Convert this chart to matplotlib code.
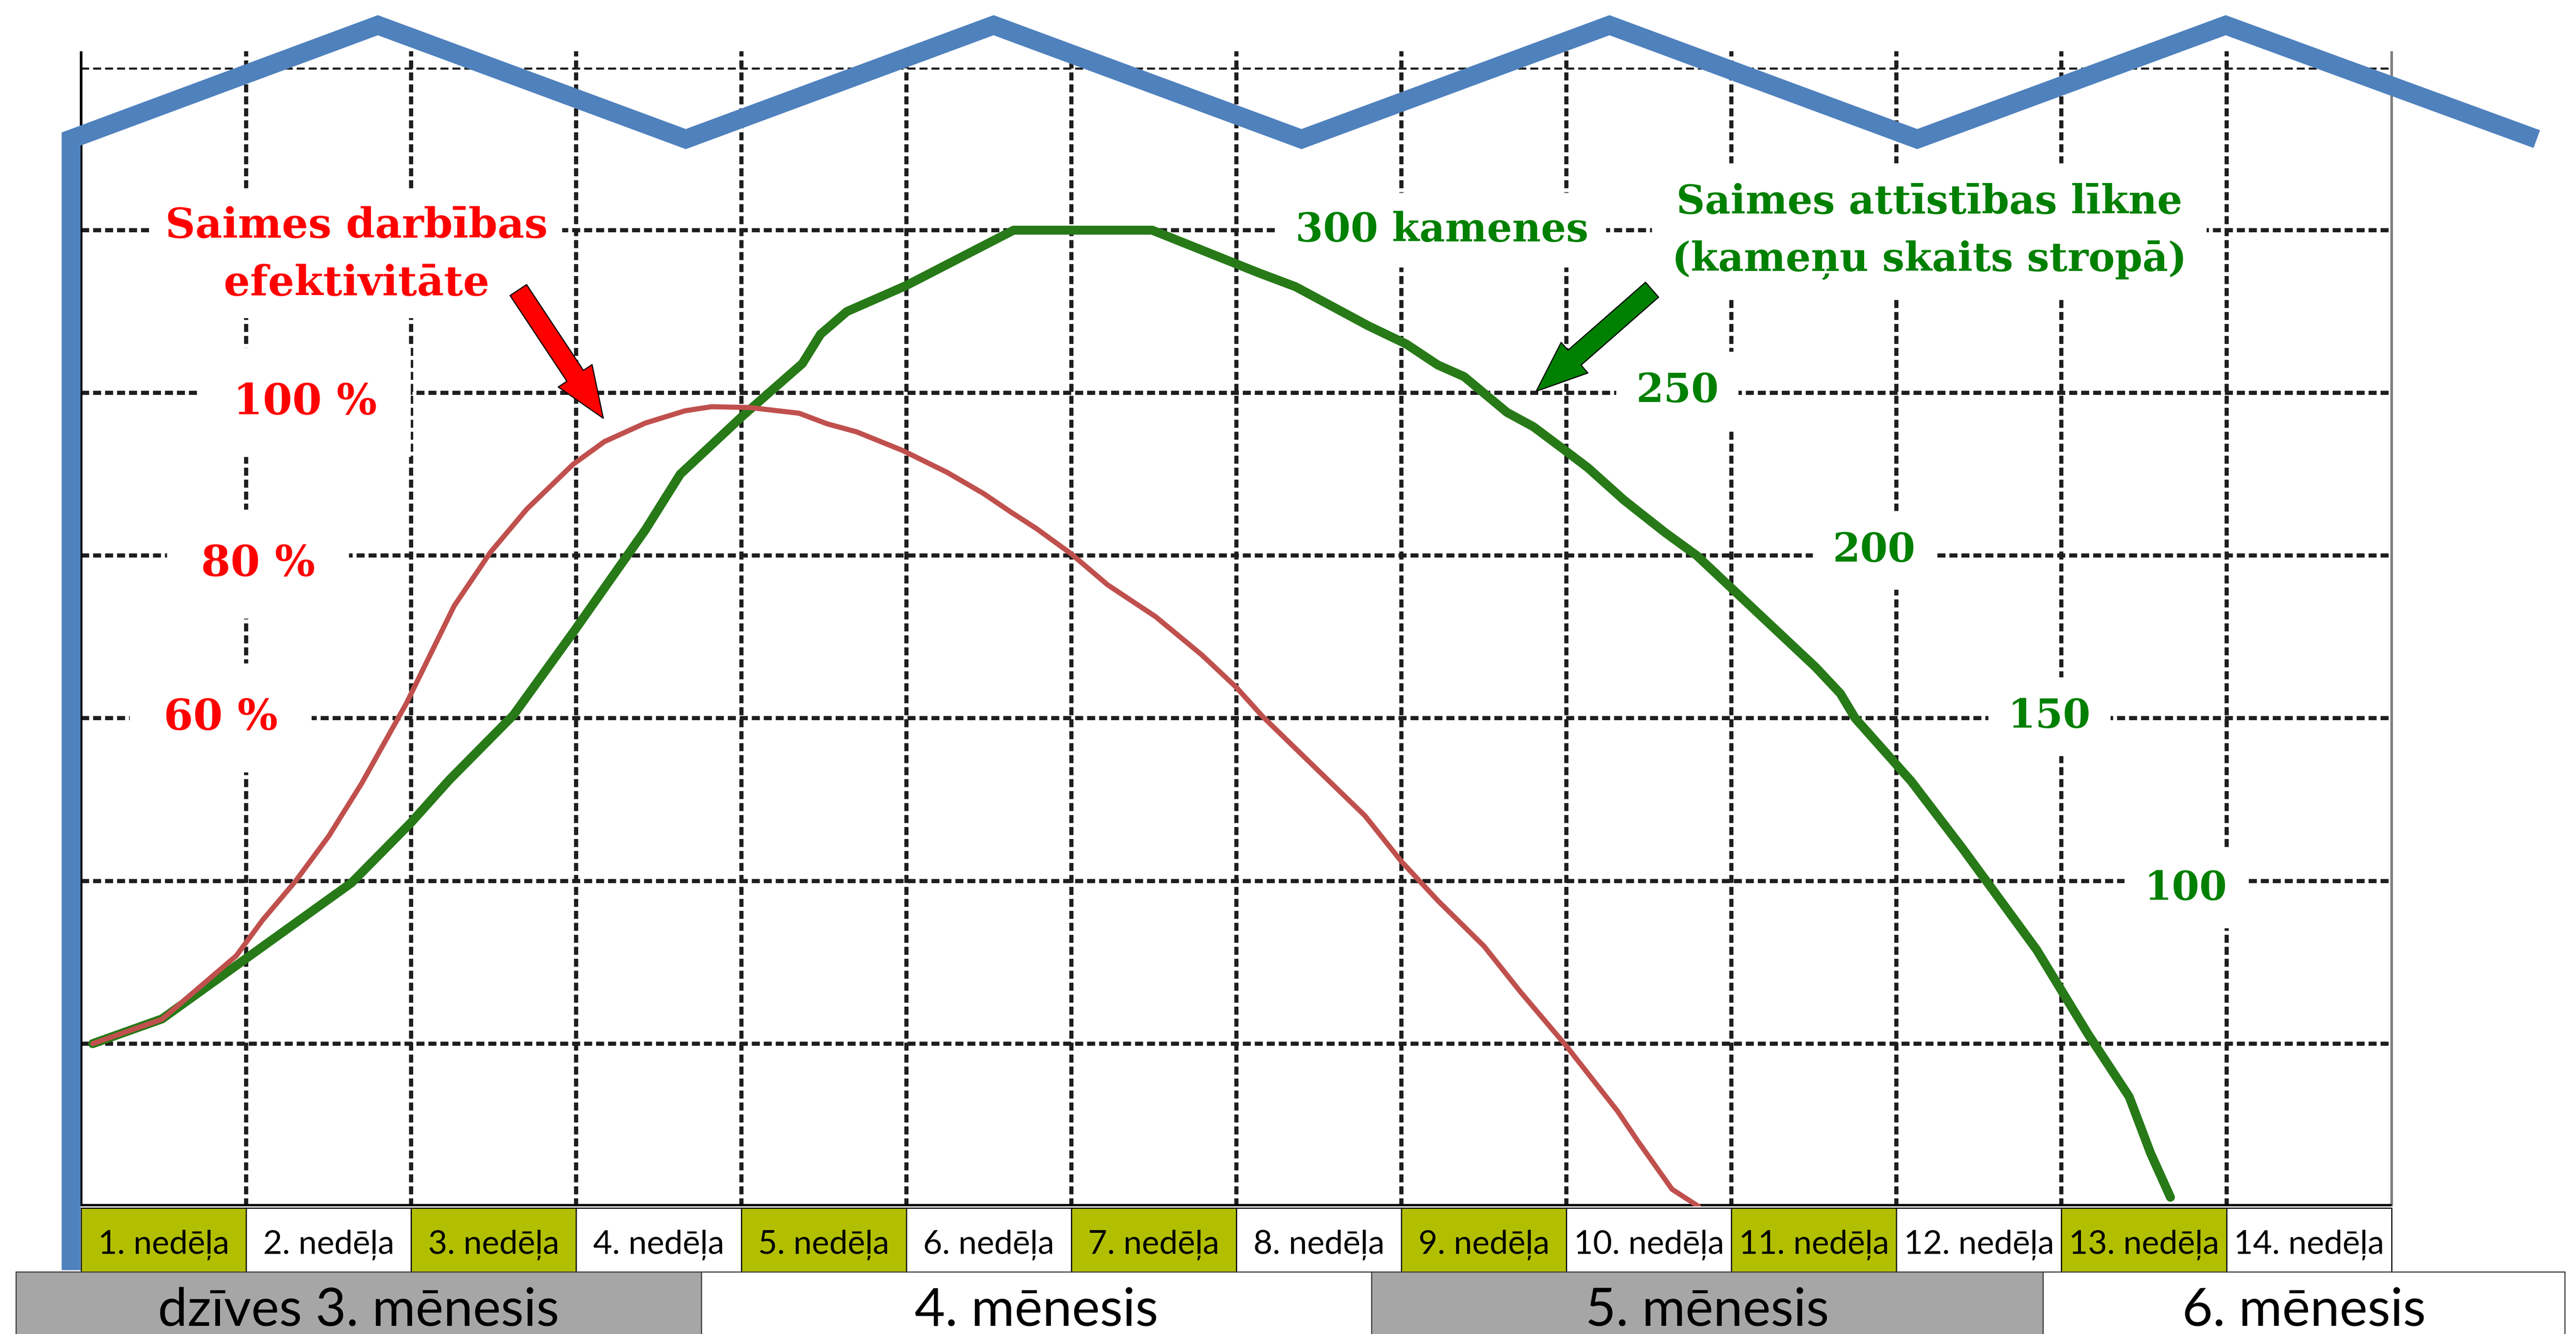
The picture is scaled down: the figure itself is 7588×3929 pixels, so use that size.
import matplotlib.pyplot as plt
import matplotlib.transforms as mtransforms
from matplotlib.patches import Rectangle, FancyArrowPatch

plt.rcParams["lines.scale_dashes"] = False
plt.rcParams["font.family"] = ["Lato", "DejaVu Sans"]

# === Data ===
week_labels = [f"{i}. nedēļa" for i in range(1, 15)]
month_labels = ["dzīves 3. mēnesis", "4. mēnesis", "5. mēnesis", "6. mēnesis"]

# colony development curve (number of bumblebees in the nest)
colony_weeks = [0.07, 0.49, 0.94, 1.64, 2.0, 2.23, 2.62, 2.99, 3.42, 3.63, 4.01,
                4.37, 4.48, 4.64, 5.0, 5.65, 6.49, 7.13, 7.36, 7.8, 8.03, 8.22,
                8.38, 8.64, 8.8, 9.0, 9.13, 9.35, 9.6, 9.79, 10.51, 10.66, 10.75,
                11.09, 11.4, 11.85, 12.16, 12.41, 12.54, 12.66]
colony_bees = [50, 57.6, 74, 99.5, 118, 131, 151, 177, 208, 225, 243,
               259, 268, 275, 283, 300, 300, 287, 282.6, 270.6, 265, 258.6,
               255, 244, 239.6, 232, 227, 217, 207, 200, 165.7, 157.6, 150,
               130.6, 110, 78.8, 53, 33.7, 16.3, 2.8]

# colony efficiency curve (%)
efficiency_weeks = [0.07, 0.49, 0.94, 1.10, 1.30, 1.50, 1.70, 1.97, 2.26, 2.48,
                    2.70, 2.98, 3.17, 3.42, 3.66, 3.82, 4.05, 4.35, 4.52, 4.70,
                    4.98, 5.25, 5.47, 5.63, 5.79, 6.0, 6.22, 6.51, 6.79, 7.0,
                    7.16, 7.5, 7.78, 8.0, 8.22, 8.5, 8.72, 9.0, 9.31, 9.43,
                    9.64, 9.80]
efficiency_pct = [20, 23, 30.8, 35.2, 40, 45.5, 52, 61.8, 73.8, 80.4,
                  85.7, 91.2, 94.0, 96.3, 97.8, 98.3, 98.2, 97.5, 96.2, 95.2,
                  92.9, 90.2, 87.6, 85.4, 83.3, 80.2, 76.4, 72.5, 67.8, 63.8,
                  60.2, 53.5, 48, 42.4, 37.6, 32, 26.4, 19.7, 11.7, 8.1,
                  2.1, 0]

bee_labels = ["100", "150", "200", "250"]
pct_labels = ["60 %", "80 %", "100 %"]

# === Styling / layout ===
RED_TXT = "#FF0000"
GREEN_TXT = "#008000"
RED_LINE = "#C0504D"
GREEN_LINE = "#277A17"
ROOF = "#4F81BD"
OLIVE = "#B2BF00"
GRAY = "#A6A6A6"
GRID = "#1E1E1E"
dash = (0, (8.5, 4.2))
serif = dict(family="DejaVu Serif", weight="bold")

fig = plt.figure(figsize=(37.94, 19.645), dpi=200)
ax = fig.add_axes([0.0315, 0.0957, 0.8969, 0.8537])
ax.set_xlim(0, 14)
ax.set_ylim(0, 350)
ax.set_xticks([])
ax.set_yticks([])
for s in ax.spines.values():
    s.set_visible(False)

# grid (dashed, sticking out a little above the top)
ax.vlines(range(1, 14), 0, 355, colors=GRID, lw=4.4, linestyles=[dash], clip_on=False, zorder=1)
ax.hlines(range(50, 351, 50), 0, 14, colors=GRID, lw=4.4, linestyles=[dash], zorder=1)
ax.vlines(0, 0, 355, colors="black", lw=2.8, clip_on=False, zorder=2)
ax.vlines(14, 0, 355, colors="#808080", lw=2.8, clip_on=False, zorder=2)
ax.hlines(0, 0, 14, colors="black", lw=5, zorder=2)

# === Curves ===
ax.plot(colony_weeks, colony_bees, color=GREEN_LINE, lw=9.5, solid_capstyle="round",
        solid_joinstyle="round", zorder=4)

ax2 = ax.twinx()
ax2.set_ylim(0, 140)
ax2.set_yticks([])
for s in ax2.spines.values():
    s.set_visible(False)
ax2.plot(efficiency_weeks, efficiency_pct, color=RED_LINE, lw=5.4, solid_capstyle="round",
         solid_joinstyle="round", zorder=4)

# === Week and month strips under the chart ===
trans = mtransforms.blended_transform_factory(ax.transData, ax.transAxes)
for i, lab in enumerate(week_labels):
    fc = OLIVE if i % 2 == 0 else "white"
    ax.add_patch(Rectangle((i, -0.059), 1, 0.0576, transform=trans, fc=fc, ec="black",
                           lw=1.2, clip_on=False, zorder=3))
    ax.text(i + 0.5, -0.0417, lab, transform=trans, ha="center", va="baseline",
            fontsize=35, color="black", clip_on=False, zorder=4)

month_edges = [-0.396, 3.758, 7.818, 11.888, 15.05]
for j, lab in enumerate(month_labels):
    fc = GRAY if j % 2 == 0 else "white"
    x0, x1 = month_edges[j], month_edges[j + 1]
    ax.add_patch(Rectangle((x0, -0.13), x1 - x0, 0.0724, transform=trans, fc=fc, ec="#404040",
                           lw=1.2, clip_on=False, zorder=3))
    ax.text((x0 + x1) / 2, -0.105, lab, transform=trans, ha="center", va="baseline",
            fontsize=56, color="black", clip_on=False, zorder=4)

# === House outline (wall + roof) ===
roof_x = [-0.061, -0.061, 1.798, 3.664, 5.529, 7.395, 9.261, 11.126, 12.995, 14.88]
roof_y = [-19.6, 328, 363, 328, 363, 328, 363, 328, 363, 328]
ax.plot(roof_x, roof_y, color=ROOF, lw=20, solid_joinstyle="miter", solid_capstyle="butt",
        clip_on=False, zorder=8)

# === Annotations ===
wbox = dict(boxstyle="square,pad=0.35", fc="white", ec="none")
ax.text(1.669, 297.7, "Saimes darbības", ha="center", va="baseline", fontsize=44,
        color=RED_TXT, bbox=wbox, zorder=3, **serif)
ax.text(1.669, 280.0, "efektivitāte", ha="center", va="baseline", fontsize=44,
        color=RED_TXT, bbox=wbox, zorder=3, **serif)

pct_pos = [(0.846, 146.5), (1.072, 193.8), (1.356, 243.4)]
for (x, y), lab in zip(pct_pos, pct_labels):
    ax.text(x, y, lab, ha="center", va="baseline", fontsize=45, color=RED_TXT,
            bbox=dict(boxstyle="square,pad=0.8", fc="white", ec="none"), zorder=3, **serif)

bee_pos = [(12.753, 94.2), (11.927, 147.1), (10.863, 198.2), (9.673, 247.2)]
for (x, y), lab in zip(bee_pos, bee_labels):
    ax.text(x, y, lab, ha="center", va="baseline", fontsize=42, color=GREEN_TXT,
            bbox=dict(boxstyle="square,pad=0.5", fc="white", ec="none"), zorder=3, **serif)

ax.text(8.245, 296.6, "300 kamenes", ha="center", va="baseline", fontsize=42,
        color=GREEN_TXT, bbox=dict(boxstyle="square,pad=0.45", fc="white", ec="none"),
        zorder=3, **serif)
ax.text(11.199, 305.1, "Saimes attīstības līkne", ha="center", va="baseline", fontsize=42,
        color=GREEN_TXT, bbox=dict(boxstyle="square,pad=0.5", fc="white", ec="none"),
        zorder=3, **serif)
ax.text(11.199, 287.5, "(kameņu skaits stropā)", ha="center", va="baseline", fontsize=42,
        color=GREEN_TXT, bbox=dict(boxstyle="square,pad=0.5", fc="white", ec="none"),
        zorder=3, **serif)

arrow_style = "simple,head_length=5.4,head_width=4.3,tail_width=2.1"
ax.add_patch(FancyArrowPatch((2.649, 281.6), (3.164, 242.2), arrowstyle=arrow_style,
                             mutation_scale=10, fc="#FF0000", ec="black", lw=1.2,
                             shrinkA=0, shrinkB=0, zorder=6))
ax.add_patch(FancyArrowPatch((9.519, 281.7), (8.817, 250.5), arrowstyle=arrow_style,
                             mutation_scale=10, fc="#008000", ec="black", lw=1.2,
                             shrinkA=0, shrinkB=0, zorder=6))

fig.savefig("out.png", dpi=200)
